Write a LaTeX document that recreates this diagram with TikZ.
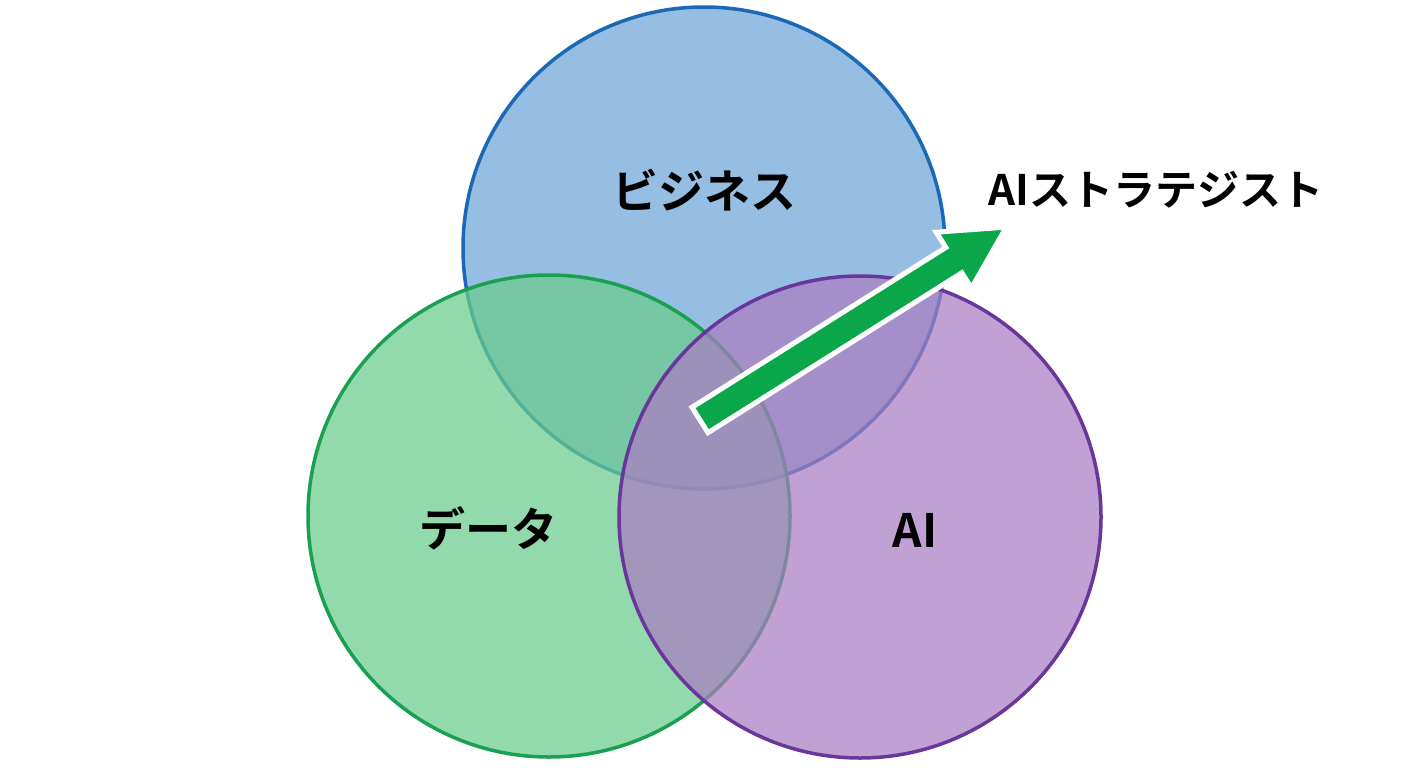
\documentclass[tikz,border=0pt]{standalone}
\usepackage{fontspec}
\newfontfamily\jp{Noto Sans CJK JP}[BoldFont={* Bold}]
\begin{document}
\begin{tikzpicture}[x=1pt,y=1pt,
 circ/.style={circle,minimum size=482pt,inner sep=0pt,line width=3.5pt,fill opacity=0.72},
 lab/.style={font=\jp\bfseries\fontsize{46}{50}\selectfont,text=black}]
\useasboundingbox[fill=white] (0,0) rectangle (1408,-768);
\node[circ,draw=blue!60!black!80,fill={rgb,255:red,110;green,165;blue,215},draw={rgb,255:red,25;green,105;blue,180}] (biz) at (704,-248) {};
\node[circ,fill={rgb,255:red,105;green,205;blue,140},draw={rgb,255:red,25;green,160;blue,80}] (data) at (549,-516) {};
\node[circ,fill={rgb,255:red,170;green,125;blue,195},draw={rgb,255:red,105;green,55;blue,155}] (ai) at (860,-517) {};
\node[lab] (tb) at (704,-190) {ビジネス};
\node[lab] (td) at (488,-528) {データ};
\node[lab] (ta) at (915,-530) {AI};
\node[lab,font=\jp\bfseries\fontsize{42}{46}\selectfont,anchor=west] (ts) at (985,-190) {AIストラテジスト};
\begin{scope}[shift={(700,-420)},rotate=32.2]
\draw[white,line width=5pt,line join=miter,fill={rgb,255:red,10;green,166;blue,74}]
 (0,-15)--(300,-15)--(300,-33)--(362,0)--(300,33)--(300,15)--(0,15)--cycle;
\end{scope}
\end{tikzpicture}
\end{document}
